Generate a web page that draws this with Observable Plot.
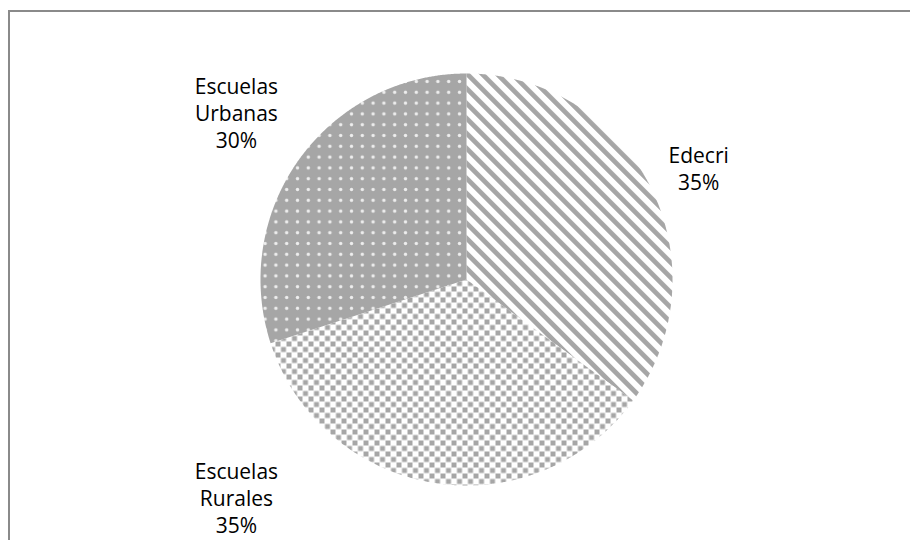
<!DOCTYPE html>
<html><head><meta charset="utf-8">
<script src="https://cdn.jsdelivr.net/npm/d3@7"></script>
<script src="https://cdn.jsdelivr.net/npm/@observablehq/plot@0.6"></script>
<style>
body{margin:0;background:#fff;overflow:hidden}
#wrap{position:relative;width:910px;height:540px;overflow:hidden;background:#fff}
#frame{position:absolute;left:8px;top:10px;width:1000px;height:1000px;border-left:2px solid #8a8a8a;border-top:2px solid #8a8a8a}
#chart{position:absolute;left:0;top:0}
</style></head><body>
<div id="wrap"><div id="frame"></div><div id="chart"></div></div>
<script>
// ---- data ----
const categories = ["Edecri", "Escuelas Rurales", "Escuelas Urbanas"];
const values = [35, 35, 30];
const labelLines = [["Edecri", "35%"], ["Escuelas", "Rurales", "35%"], ["Escuelas", "Urbanas", "30%"]];

// ---- styling / layout ----
const patterns = ["url(#stripes)", "url(#squares)", "url(#dots)"];
const labelX = [1.127, -1.117, -1.117];   // label anchors in pie-radius units
const labelY = [0.54, -1.056, 0.81];

const arcs = d3.pie().sort(null).value(d => d)(values);
const pts = [];
arcs.forEach((a, i) => {
  pts.push({cat: categories[i], fill: patterns[i], x: 0, y: 0});
  const n = Math.ceil((a.endAngle - a.startAngle) / 0.005);
  for (let k = 0; k <= n; k++) {
    const t = a.startAngle + (a.endAngle - a.startAngle) * k / n;
    pts.push({cat: categories[i], fill: patterns[i], x: Math.sin(t), y: Math.cos(t)});
  }
});
const labels = categories.map((c, i) => ({x: labelX[i], y: labelY[i], text: labelLines[i].join("\n")}));

const cx = 466, cy = 279, R = 206;
const svg = Plot.plot({
  width: 910, height: 540, margin: 0,
  style: {background: "transparent", fontFamily: "'Open Sans', sans-serif"},
  x: {domain: [-1, 1], range: [cx - R, cx + R], axis: null},
  y: {domain: [-1, 1], range: [cy + R, cy - R], axis: null},
  marks: [
    Plot.line(pts, {x: "x", y: "y", z: "cat", fill: "fill", stroke: "none", curve: "linear-closed"}),
    Plot.text(labels, {x: "x", y: "y", text: "text", fontSize: 21, lineHeight: 1.28, fill: "#000", textAnchor: "middle", lineAnchor: "middle"})
  ]
});

const defs = d3.select(svg).insert("defs", ":first-child");
const g = "#a6a6a6";
// diagonal stripes
const P = 10.6;
const ps = defs.append("pattern").attr("id", "stripes").attr("patternUnits", "userSpaceOnUse")
  .attr("width", P).attr("height", P).attr("patternTransform", "rotate(-45)");
ps.append("rect").attr("width", P).attr("height", P).attr("fill", "#fff");
ps.append("rect").attr("width", P * 0.45).attr("height", P).attr("fill", g);
// checker squares
const Q = 11;
const pq = defs.append("pattern").attr("id", "squares").attr("patternUnits", "userSpaceOnUse")
  .attr("width", Q).attr("height", Q);
pq.append("rect").attr("width", Q).attr("height", Q).attr("fill", "#fff");
pq.append("rect").attr("x", 0).attr("y", 0).attr("width", 5).attr("height", 5).attr("fill", g);
pq.append("rect").attr("x", Q / 2).attr("y", Q / 2).attr("width", 5).attr("height", 5).attr("fill", g);
// dots
const D = 10.8;
const pd = defs.append("pattern").attr("id", "dots").attr("patternUnits", "userSpaceOnUse")
  .attr("width", D).attr("height", D);
pd.append("rect").attr("width", D).attr("height", D).attr("fill", g);
pd.append("circle").attr("cx", D / 2).attr("cy", D / 2).attr("r", 1.7).attr("fill", "#eeeeee");

document.getElementById("chart").appendChild(svg);
</script>
</body></html>
